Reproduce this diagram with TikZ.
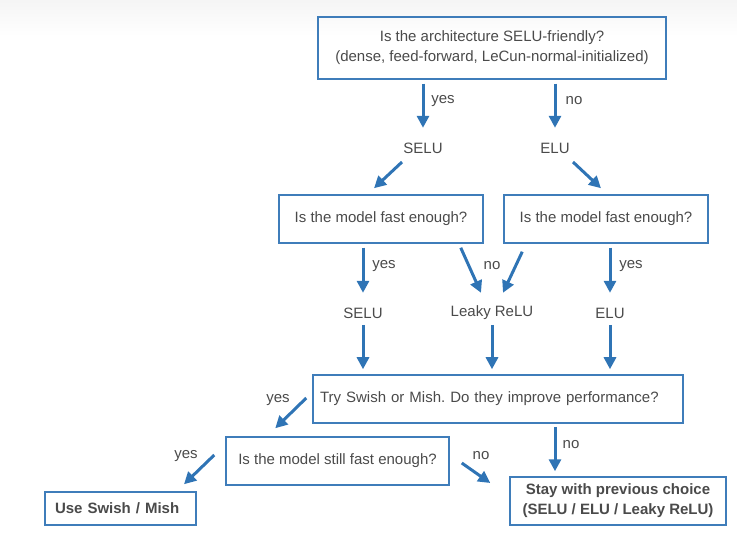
\documentclass[tikz,border=0pt]{standalone}
\usepackage{fontspec}
\setmainfont{Liberation Sans}
\usetikzlibrary{arrows.meta,calc}
\frenchspacing

\definecolor{boxblue}{HTML}{3F7DBA}
\definecolor{arrblue}{HTML}{2F74B5}
\definecolor{txtgray}{HTML}{4A4A4A}

\tikzset{
  every node/.style={font=\fontsize{15}{20}\selectfont, text=txtgray},
  qbox/.style={draw=boxblue, line width=1.5pt, align=center, inner sep=0pt},
  boldtxt/.style={font=\fontsize{15}{20}\selectfont\bfseries},
  act/.style={inner sep=0pt, minimum height=40pt},
  lbl/.style={inner sep=0pt},
  arr/.style={draw=arrblue, line width=3pt, -{Triangle[width=12pt,length=12pt]}},
}

\begin{document}
\begin{tikzpicture}[x=1pt,y=-1pt]
  \useasboundingbox (0,0) rectangle (737,540);
  \fill[top color=black!4, bottom color=white, draw=none] (0,0) rectangle (737,36);

  % questions and answers
  \node[qbox, minimum width=348pt, minimum height=62pt] (q1) at (492,48)
    {Is the architecture SELU-friendly?\\(dense, feed-forward, LeCun-normal-initialized)};
  \node[act] (selu1) at (423,148) {SELU};
  \node[act] (elu1) at (555,148) {ELU};
  \node[qbox, minimum width=204pt, minimum height=48pt] (q2) at (381,219) {Is the model fast enough?};
  \node[qbox, minimum width=204pt, minimum height=48pt] (q3) at (606,219) {Is the model fast enough?};
  \node[act] (selu2) at (363,313) {SELU};
  \node[act] (leaky) at (492,313) {Leaky ReLU};
  \node[act] (elu2) at (610,313) {ELU};
  \node[qbox, minimum height=48pt, text width=356pt, align=left, inner xsep=7pt] (q4) at (498,399)
    {Try Swish or Mish. Do they improve performance?};
  \node[qbox, minimum width=223pt, minimum height=48pt] (q5) at (337.5,461) {Is the model still fast enough?};
  \node[qbox, boldtxt, minimum height=33pt, text width=131pt, align=left, inner xsep=10pt] (use) at (120.5,508.5)
    {Use Swish / Mish};
  \node[qbox, boldtxt, minimum width=216pt, minimum height=48pt] (stay) at (618,501)
    {Stay with previous choice\\(SELU / ELU / Leaky ReLU)};

  % labels
  \node[lbl] (yes1) at (443,101) {yes};
  \node[lbl] (no1) at (574,101) {no};
  \node[lbl] (yes2) at (384,266) {yes};
  \node[lbl] (no2) at (492,266) {no};
  \node[lbl] (yes3) at (631,266) {yes};
  \node[lbl] (yes4) at (278,400) {yes};
  \node[lbl] (no4) at (571,445) {no};
  \node[lbl] (yes5) at (186,456) {yes};
  \node[lbl] (no5) at (481,456) {no};

  % arrows
  \draw[arr] ($(q1.south -| selu1)+(0,4)$) -- (selu1.north);
  \draw[arr] ($(q1.south -| elu1)+(0,4)$) -- (elu1.north);
  \draw[arr] ($(selu1)+(-21,14)$) -- ($(q2.north)+(-7,-6)$);
  \draw[arr] ($(elu1)+(18,14)$) -- ($(q3.north)+(-5,-6)$);
  \draw[arr] ($(q2.south -| selu2)+(0,4)$) -- (selu2.north);
  \draw[arr] ($(q2.south east)+(-23,4)$) -- ($(leaky.north)+(-11,0)$);
  \draw[arr] ($(q3.south west)+(19,8)$) -- ($(leaky.north)+(11,0)$);
  \draw[arr] ($(q3.south -| elu2)+(0,4)$) -- (elu2.north);
  \draw[arr] ($(selu2)+(0,12)$) -- ($(q4.north -| selu2)+(0,-5)$);
  \draw[arr] ($(leaky)+(0,12)$) -- ($(q4.north -| leaky)+(0,-5)$);
  \draw[arr] ($(elu2)+(0,12)$) -- ($(q4.north -| elu2)+(0,-5)$);
  \draw[arr] ($(q4.west)+(-6,-1)$) -- ($(q5.north west)+(50,-8)$);
  \draw[arr] ($(q4.south)+(57,3)$) -- ($(stay.north)+(-63,-5)$);
  \draw[arr] ($(q5.west)+(-11,-6)$) -- ($(use.north)+(63.5,-7)$);
  \draw[arr] ($(q5.east)+(12,2)$) -- ($(stay.west)+(-19,-18)$);
\end{tikzpicture}
\end{document}
